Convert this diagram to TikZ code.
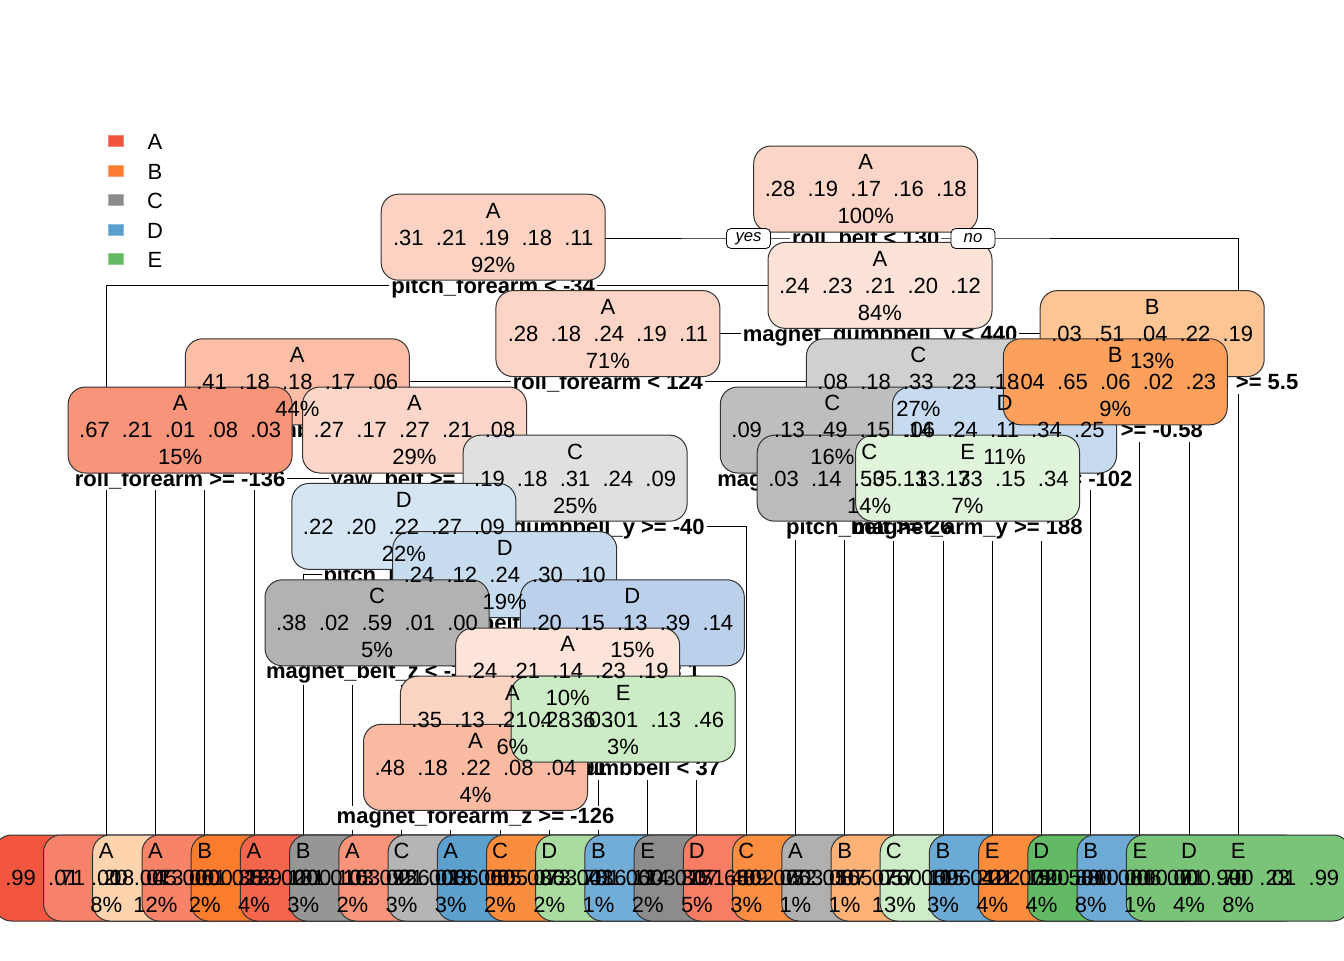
\documentclass[tikz,border=0pt]{standalone}
\usepackage{fontspec}
\setmainfont{Liberation Sans}
\usetikzlibrary{calc}

\newcommand\nodefont{\fontsize{16.5}{20}\selectfont}
\newcommand\numgap{\hspace{0.556em}}
\newcommand\probs[5]{#1\numgap#2\numgap#3\numgap#4\numgap#5}

% fills of the split nodes
\definecolor{c1}{RGB}{252,213,198}
\definecolor{c2}{RGB}{252,211,195}
\definecolor{c3}{RGB}{253,226,216}
\definecolor{c4}{RGB}{252,213,198}
\definecolor{c5}{RGB}{252,197,147}
\definecolor{c6}{RGB}{252,190,167}
\definecolor{c7}{RGB}{208,208,208}
\definecolor{c8}{RGB}{252,160,92}
\definecolor{c9}{RGB}{247,148,121}
\definecolor{c10}{RGB}{252,214,200}
\definecolor{c11}{RGB}{190,190,190}
\definecolor{c12}{RGB}{198,219,239}
\definecolor{c13}{RGB}{224,224,224}
\definecolor{c14}{RGB}{187,187,187}
\definecolor{c15}{RGB}{224,243,219}
\definecolor{c16}{RGB}{214,229,244}
\definecolor{c17}{RGB}{200,220,240}
\definecolor{c18}{RGB}{178,178,178}
\definecolor{c19}{RGB}{187,208,235}
\definecolor{c20}{RGB}{254,228,217}
\definecolor{c21}{RGB}{252,212,196}
\definecolor{c22}{RGB}{204,236,197}
\definecolor{c23}{RGB}{250,187,162}
% fills of the leaves
\definecolor{l1}{RGB}{242,86,62}
\definecolor{l2}{RGB}{247,130,106}
\definecolor{l3}{RGB}{253,212,174}
\definecolor{l4}{RGB}{247,131,105}
\definecolor{l5}{RGB}{250,124,44}
\definecolor{l6}{RGB}{244,102,76}
\definecolor{l7}{RGB}{150,150,150}
\definecolor{l8}{RGB}{248,148,122}
\definecolor{l9}{RGB}{181,181,181}
\definecolor{l10}{RGB}{92,160,206}
\definecolor{l11}{RGB}{251,141,62}
\definecolor{l12}{RGB}{170,220,160}
\definecolor{l13}{RGB}{113,173,215}
\definecolor{l14}{RGB}{140,140,140}
\definecolor{l15}{RGB}{247,126,100}
\definecolor{l16}{RGB}{252,142,66}
\definecolor{l17}{RGB}{176,176,176}
\definecolor{l18}{RGB}{253,178,120}
\definecolor{l19}{RGB}{205,237,200}
\definecolor{l20}{RGB}{108,170,214}
\definecolor{l21}{RGB}{250,140,60}
\definecolor{l22}{RGB}{98,186,100}
\definecolor{l23}{RGB}{110,170,214}
\definecolor{l24}{RGB}{122,196,122}
% legend keys
\definecolor{keyA}{RGB}{242,85,62}
\definecolor{keyB}{RGB}{250,125,50}
\definecolor{keyC}{RGB}{140,140,140}
\definecolor{keyD}{RGB}{90,160,205}
\definecolor{keyE}{RGB}{100,185,100}

\tikzset{
  brline/.style={draw=black, line width=0.75pt},
  nodebox/.style={draw=black!80, line width=0.75pt, rounded corners=13pt,
    minimum width=168pt, minimum height=64.5pt, inner sep=0pt},
  ntext/.style={anchor=base, inner sep=0pt, font=\nodefont},
  splitbg/.style={anchor=base, fill=white, inner xsep=1.5pt, inner ysep=1.2pt, font=\nodefont\bfseries},
  splittxt/.style={anchor=base, inner xsep=1.5pt, inner ysep=1.2pt, font=\nodefont\bfseries},
  yn/.style={draw=black, fill=white, rounded corners=3.5pt, line width=0.6pt,
    font=\fontsize{12.5}{14}\selectfont\itshape, minimum width=33pt,
    minimum height=15pt, inner sep=0pt},
  keybox/.style={minimum width=11.5pt, minimum height=8.5pt, inner sep=0pt, line width=0.5pt},
  keytxt/.style={anchor=base, inner sep=0pt, font=\nodefont},
}

% box of a node, and its three text lines
\newcommand\nbox[2]{\node[nodebox, fill=#2] (#1box) at (#1) {};}
\newcommand\ntxt[4]{%
  \node[ntext] (#1a) at ($(#1)+(0,-19.1)$) {#2};
  \node[ntext] (#1b) at ($(#1)+(0,7.9)$) {#3};
  \node[ntext] (#1c) at ($(#1)+(0,34.9)$) {#4};}
% split labels: white mask first, then the text
\newcommand\sbg[2]{\node[splitbg] (#1bg) at ($(#1)+(0,7.9)$) {\phantom{#2}};}
\newcommand\stxt[2]{\node[splittxt] (#1t) at ($(#1)+(0,7.9)$) {#2};}
\newcommand\allsplits[1]{%
  #1{s1}{roll\_belt < 130}
  #1{s2}{pitch\_forearm < -34}
  #1{s3}{magnet\_dumbbell\_y < 440}
  #1{s4}{roll\_forearm < 124}
  #1{s5}{total\_accel\_dumbbell >= 5.5}
  #1{s6}{magnet\_dumbbell\_y < 170}
  #1{s7}{magnet\_dumbbell\_z < -25}
  #1{s8}{roll\_arm >= -0.58}
  #1{s9}{roll\_forearm >= -136}
  #1{s10}{yaw\_belt >= 170}
  #1{s11}{magnet\_arm\_x >= 291}
  #1{s12}{accel\_forearm\_x >= -102}
  #1{s13}{accel\_dumbbell\_y >= -40}
  #1{s14}{pitch\_belt >= 26}
  #1{s15}{magnet\_arm\_y >= 188}
  #1{s16}{pitch\_belt < -43}
  #1{s17}{magnet\_belt\_y >= 555}
  #1{s18}{magnet\_belt\_z < -375}
  #1{s19}{roll\_belt >= 1}
  #1{s20}{magnet\_forearm\_y < 429}
  #1{s21}{accel\_arm\_x < -91}
  #1{s22}{roll\_dumbbell < 37}
  #1{s23}{magnet\_forearm\_z >= -126}
}

\begin{document}
\begin{tikzpicture}[x=0.75pt, y=-0.75pt]
\fill[white] (0,0) rectangle (1344,960);
\useasboundingbox (0,0) rectangle (1344,960);
\clip (0,0) rectangle (1344,960);

% split nodes
\coordinate (n1) at (865.7,189);
\coordinate (n2) at (493.2,237.2);
\coordinate (n3) at (880.0,285.4);
\coordinate (n4) at (607.9,333.6);
\coordinate (n5) at (1152.2,333.6);
\coordinate (n6) at (297.3,381.8);
\coordinate (n7) at (918.4,381.8);
\coordinate (n8) at (1115.3,381.8);
\coordinate (n9) at (180.1,430);
\coordinate (n10) at (414.5,430);
\coordinate (n11) at (832.3,430);
\coordinate (n12) at (1004.5,430);
\coordinate (n13) at (575.1,478.2);
\coordinate (n14) at (869.2,478.2);
\coordinate (n15) at (967.6,478.2);
\coordinate (n16) at (403.9,526.4);
\coordinate (n17) at (504.7,574.6);
\coordinate (n18) at (377.0,622.8);
\coordinate (n19) at (632.3,622.8);
\coordinate (n20) at (567.7,671);
\coordinate (n21) at (512.4,719.2);
\coordinate (n22) at (623.1,719.2);
\coordinate (n23) at (475.5,767.4);
% leaves
\coordinate (L1) at (106.3,878);
\coordinate (L2) at (155.5,878);
\coordinate (L3) at (204.7,878);
\coordinate (L4) at (254.0,878);
\coordinate (L5) at (303.2,878);
\coordinate (L6) at (352.4,878);
\coordinate (L7) at (401.6,878);
\coordinate (L8) at (450.8,878);
\coordinate (L9) at (500.1,878);
\coordinate (L10) at (549.3,878);
\coordinate (L11) at (598.5,878);
\coordinate (L12) at (647.7,878);
\coordinate (L13) at (696.9,878);
\coordinate (L14) at (746.2,878);
\coordinate (L15) at (795.4,878);
\coordinate (L16) at (844.6,878);
\coordinate (L17) at (893.8,878);
\coordinate (L18) at (943.0,878);
\coordinate (L19) at (992.2,878);
\coordinate (L20) at (1041.4,878);
\coordinate (L21) at (1090.7,878);
\coordinate (L22) at (1139.9,878);
\coordinate (L23) at (1189.1,878);
\coordinate (L24) at (1238.3,878);
% split label positions
\coordinate (s1) at (865.7,238);
\coordinate (s2) at (493.2,285.4);
\coordinate (s3) at (880.0,333.6);
\coordinate (s4) at (607.9,381.8);
\coordinate (s5) at (1152.2,381.8);
\coordinate (s6) at (297.3,430);
\coordinate (s7) at (918.4,430);
\coordinate (s8) at (1115.3,430);
\coordinate (s9) at (180.1,478.2);
\coordinate (s10) at (414.5,478.2);
\coordinate (s11) at (832.3,478.2);
\coordinate (s12) at (1004.5,478.2);
\coordinate (s13) at (575.1,526.4);
\coordinate (s14) at (869.2,526.4);
\coordinate (s15) at (967.6,526.4);
\coordinate (s16) at (403.9,574.6);
\coordinate (s17) at (504.7,622.8);
\coordinate (s18) at (377.0,671);
\coordinate (s19) at (632.3,671);
\coordinate (s20) at (567.7,719.2);
\coordinate (s21) at (512.4,767.4);
\coordinate (s22) at (623.1,767.4);
\coordinate (s23) at (475.5,815.6);

% branches
\draw[brline] (n2) |- (s1) -| (L24);
\draw[brline] (L1) |- (s2) -| (n3);
\draw[brline] (n4) |- (s3) -| (n5);
\draw[brline] (n6) |- (s4) -| (n7);
\draw[brline] (n8) |- (s5) -| (L23);
\draw[brline] (n9) |- (s6) -| (n10);
\draw[brline] (n11) |- (s7) -| (n12);
\draw[brline] (L21) |- (s8) -| (L22);
\draw[brline] (L2) |- (s9) -| (L3);
\draw[brline] (L4) |- (s10) -| (n13);
\draw[brline] (L15) |- (s11) -| (n14);
\draw[brline] (n15) |- (s12) -| (L20);
\draw[brline] (n16) |- (s13) -| (L14);
\draw[brline] (L16) |- (s14) -| (L17);
\draw[brline] (L18) |- (s15) -| (L19);
\draw[brline] (L5) |- (s16) -| (n17);
\draw[brline] (n18) |- (s17) -| (n19);
\draw[brline] (L6) |- (s18) -| (L7);
\draw[brline] (n20) |- (s19) -| (L13);
\draw[brline] (n21) |- (s20) -| (n22);
\draw[brline] (n23) |- (s21) -| (L10);
\draw[brline] (L11) |- (s22) -| (L12);
\draw[brline] (L8) |- (s23) -| (L9);

% split labels
\allsplits\sbg
\allsplits\stxt

% node boxes
\nbox{n1}{c1}
\nbox{n2}{c2}
\nbox{n3}{c3}
\nbox{n4}{c4}
\nbox{n6}{c6}
\nbox{n9}{c9}
\nbox{n10}{c10}
\nbox{n13}{c13}
\nbox{n16}{c16}
\nbox{n17}{c17}
\nbox{n18}{c18}
\nbox{n19}{c19}
\nbox{n20}{c20}
\nbox{n21}{c21}
\nbox{n23}{c23}
\nbox{n22}{c22}
\nbox{n7}{c7}
\nbox{n11}{c11}
\nbox{n14}{c14}
\nbox{n12}{c12}
\nbox{n15}{c15}
\nbox{n5}{c5}
\nbox{n8}{c8}
% leaf boxes
\nbox{L1}{l1}
\nbox{L2}{l2}
\nbox{L3}{l3}
\nbox{L4}{l4}
\nbox{L5}{l5}
\nbox{L6}{l6}
\nbox{L7}{l7}
\nbox{L8}{l8}
\nbox{L9}{l9}
\nbox{L10}{l10}
\nbox{L11}{l11}
\nbox{L12}{l12}
\nbox{L13}{l13}
\nbox{L14}{l14}
\nbox{L15}{l15}
\nbox{L16}{l16}
\nbox{L17}{l17}
\nbox{L18}{l18}
\nbox{L19}{l19}
\nbox{L20}{l20}
\nbox{L21}{l21}
\nbox{L22}{l22}
\nbox{L23}{l23}
\nbox{L24}{l24}

% yes / no tags of the first split
\node[yn] (yes) at (748.5,238.5) {yes};
\node[yn] (no) at (973,238.5) {no};

% node texts
\ntxt{n1}{A}{\probs{.28}{.19}{.17}{.16}{.18}}{100\%}
\ntxt{n2}{A}{\probs{.31}{.21}{.19}{.18}{.11}}{92\%}
\ntxt{n3}{A}{\probs{.24}{.23}{.21}{.20}{.12}}{84\%}
\ntxt{n4}{A}{\probs{.28}{.18}{.24}{.19}{.11}}{71\%}
\ntxt{n5}{B}{\probs{.03}{.51}{.04}{.22}{.19}}{13\%}
\ntxt{n6}{A}{\probs{.41}{.18}{.18}{.17}{.06}}{44\%}
\ntxt{n7}{C}{\probs{.08}{.18}{.33}{.23}{.18}}{27\%}
\ntxt{n8}{B}{\probs{.04}{.65}{.06}{.02}{.23}}{9\%}
\ntxt{n9}{A}{\probs{.67}{.21}{.01}{.08}{.03}}{15\%}
\ntxt{n10}{A}{\probs{.27}{.17}{.27}{.21}{.08}}{29\%}
\ntxt{n11}{C}{\probs{.09}{.13}{.49}{.15}{.14}}{16\%}
\ntxt{n12}{D}{\probs{.06}{.24}{.11}{.34}{.25}}{11\%}
\ntxt{n13}{C}{\probs{.19}{.18}{.31}{.24}{.09}}{25\%}
\ntxt{n14}{C}{\probs{.03}{.14}{.53}{.13}{.17}}{14\%}
\ntxt{n15}{E}{\probs{.05}{.13}{.33}{.15}{.34}}{7\%}
\ntxt{n16}{D}{\probs{.22}{.20}{.22}{.27}{.09}}{22\%}
\ntxt{n17}{D}{\probs{.24}{.12}{.24}{.30}{.10}}{19\%}
\ntxt{n18}{C}{\probs{.38}{.02}{.59}{.01}{.00}}{5\%}
\ntxt{n19}{D}{\probs{.20}{.15}{.13}{.39}{.14}}{15\%}
\ntxt{n20}{A}{\probs{.24}{.21}{.14}{.23}{.19}}{10\%}
\ntxt{n21}{A}{\probs{.35}{.13}{.21}{.28}{.03}}{6\%}
\ntxt{n22}{E}{\probs{.04}{.36}{.01}{.13}{.46}}{3\%}
\ntxt{n23}{A}{\probs{.48}{.18}{.22}{.08}{.04}}{4\%}
% leaf texts
\ntxt{L1}{A}{\probs{.99}{.01}{.00}{.00}{.00}}{8\%}
\ntxt{L2}{A}{\probs{.71}{.20}{.01}{.06}{.02}}{12\%}
\ntxt{L3}{B}{\probs{.18}{.45}{.00}{.35}{.02}}{2\%}
\ntxt{L4}{A}{\probs{.73}{.01}{.12}{.13}{.01}}{4\%}
\ntxt{L5}{B}{\probs{.00}{.83}{.00}{.10}{.07}}{3\%}
\ntxt{L6}{A}{\probs{.89}{.01}{.10}{.00}{.00}}{2\%}
\ntxt{L7}{C}{\probs{.00}{.03}{.95}{.02}{.00}}{3\%}
\ntxt{L8}{A}{\probs{.63}{.21}{.08}{.05}{.03}}{3\%}
\ntxt{L9}{C}{\probs{.26}{.13}{.50}{.07}{.04}}{2\%}
\ntxt{L10}{D}{\probs{.06}{.05}{.05}{.78}{.06}}{2\%}
\ntxt{L11}{B}{\probs{.05}{.73}{.03}{.12}{.07}}{1\%}
\ntxt{L12}{E}{\probs{.03}{.01}{.00}{.31}{.65}}{2\%}
\ntxt{L13}{D}{\probs{.16}{.14}{.15}{.48}{.07}}{5\%}
\ntxt{L14}{C}{\probs{.03}{.07}{.80}{.05}{.05}}{3\%}
\ntxt{L15}{A}{\probs{.71}{.09}{.05}{.08}{.07}}{1\%}
\ntxt{L16}{B}{\probs{.02}{.72}{.16}{.05}{.05}}{1\%}
\ntxt{L17}{C}{\probs{.03}{.07}{.76}{.10}{.04}}{13\%}
\ntxt{L18}{B}{\probs{.05}{.57}{.09}{.22}{.07}}{3\%}
\ntxt{L19}{E}{\probs{.00}{.15}{.12}{.15}{.58}}{4\%}
\ntxt{L20}{D}{\probs{.06}{.01}{.02}{.83}{.08}}{4\%}
\ntxt{L21}{B}{\probs{.02}{.90}{.01}{.00}{.07}}{8\%}
\ntxt{L22}{E}{\probs{.00}{.00}{.01}{.00}{.99}}{1\%}
\ntxt{L23}{D}{\probs{.00}{.06}{.01}{.70}{.23}}{4\%}
\ntxt{L24}{E}{\probs{.00}{.00}{.00}{.01}{.99}}{8\%}

% legend
\node[keybox, fill=keyA, draw=keyA!70!white] (kA) at (116,141) {};
\node[keybox, fill=keyB, draw=keyB!70!white] (kB) at (116,170.5) {};
\node[keybox, fill=keyC, draw=keyC!70!white] (kC) at (116,200) {};
\node[keybox, fill=keyD, draw=keyD!70!white] (kD) at (116,229.5) {};
\node[keybox, fill=keyE, draw=keyE!70!white] (kE) at (116,259) {};
\node[keytxt] (tA) at (155,149.9) {A};
\node[keytxt] (tB) at (155,179.4) {B};
\node[keytxt] (tC) at (155,208.9) {C};
\node[keytxt] (tD) at (155,238.4) {D};
\node[keytxt] (tE) at (155,267.9) {E};
\end{tikzpicture}
\end{document}
